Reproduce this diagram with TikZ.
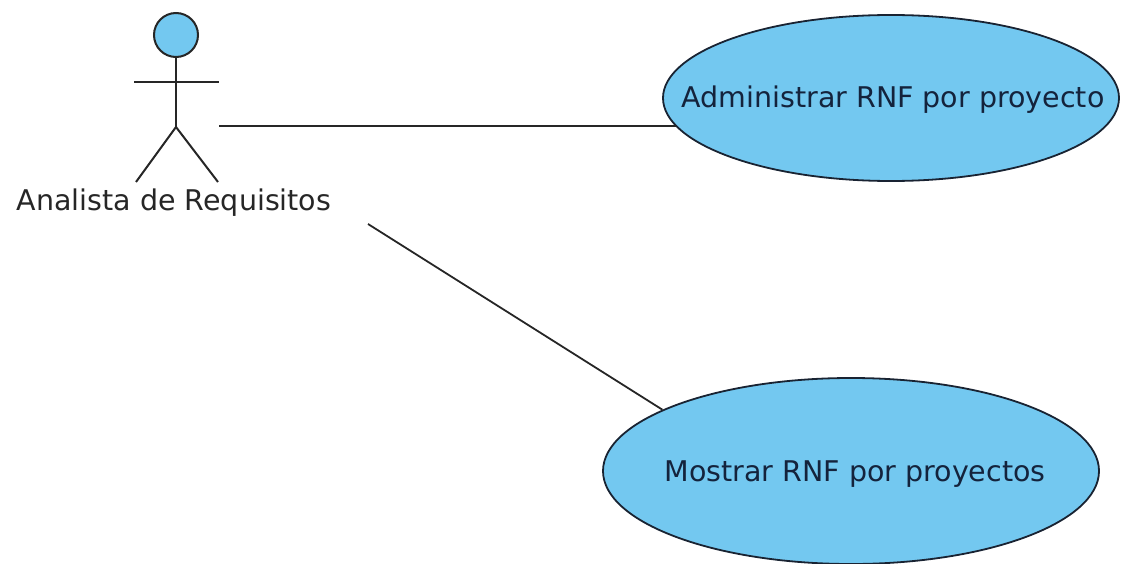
\documentclass[tikz,border=0pt]{standalone}
\usepackage{fontspec}
\setmainfont{DejaVu Sans}
\usetikzlibrary{shapes.geometric}
\definecolor{ucfill}{RGB}{115,200,240}
\definecolor{ucline}{RGB}{25,35,50}
\definecolor{uctext}{RGB}{20,35,60}
\begin{document}
\begin{tikzpicture}[x=1pt,y=-1pt,
  usecase/.style={ellipse,draw=ucline,fill=ucfill,line width=1.8pt,inner sep=0pt},
  stick/.style={draw=black!85,line width=2pt},
  assoc/.style={draw=black!85,line width=1.8pt},
  lbl/.style={font=\fontsize{28.5}{31}\selectfont,text=uctext}]
\useasboundingbox (0,0) rectangle (1123,564);
% actor
\node[circle,draw=black!85,fill=ucfill,line width=2pt,minimum size=44pt,inner sep=0pt] (head) at (176,35) {};
\coordinate (hip) at (176,127);
\coordinate (armL) at (134,82);
\coordinate (armR) at (219,82);
\coordinate (legL) at (136,182);
\coordinate (legR) at (218,182);
\draw[stick] (head.south) -- (hip);
\draw[stick] (armL) -- (armR);
\draw[stick] (legL) -- (hip) -- (legR);
\node[lbl,text=black!85] (actor) at (174,203) {Analista de Requisitos};
% use cases
\node[usecase,minimum width=456pt,minimum height=166pt] (uc1) at (891,98) {};
\node[lbl] (t1) at (893,100) {Administrar RNF por proyecto};
\node[usecase,minimum width=496pt,minimum height=186pt] (uc2) at (851,471) {};
\node[lbl] (t2) at (855,474) {Mostrar RNF por proyectos};
% associations
\coordinate (a1) at (219,126);
\coordinate (a2) at (368,224);
\path (uc1.center) ++(-215,28) coordinate (e1);
\draw[assoc] (a1) -- (e1);
\draw[assoc] (a2) -- (uc2.162);
\end{tikzpicture}
\end{document}
